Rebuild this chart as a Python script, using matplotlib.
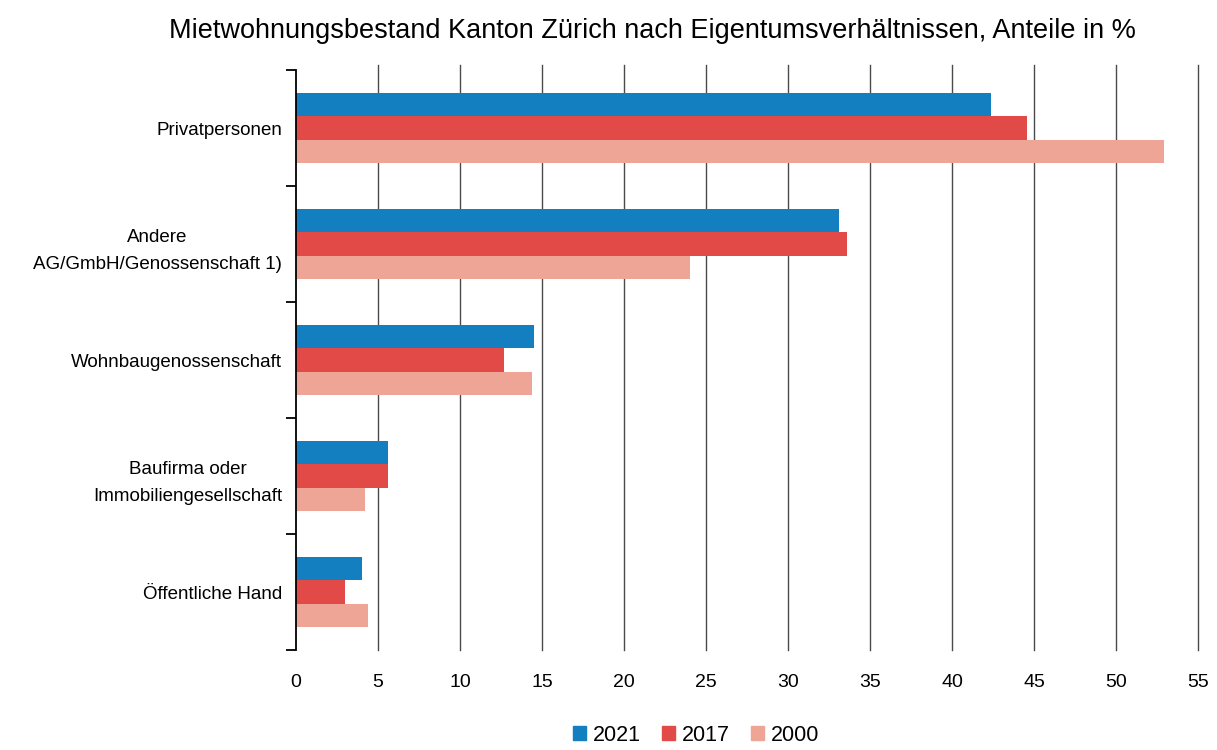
import numpy as np
import matplotlib
matplotlib.use("Agg")
import matplotlib.pyplot as plt
from matplotlib.patches import Patch

plt.rcParams['font.family'] = ['Liberation Sans', 'DejaVu Sans']

# Eigentümerkategorien (von oben nach unten)
kategorien = ['Privatpersonen',
              'Andere\nAG/GmbH/Genossenschaft 1)',
              'Wohnbaugenossenschaft',
              'Baufirma oder\nImmobiliengesellschaft',
              'Öffentliche Hand']

jahre = ['2021', '2017', '2000']
anteil_2021 = [42.4, 33.1, 14.5, 5.6, 4.0]
anteil_2017 = [44.6, 33.6, 12.7, 5.6, 3.0]
anteil_2000 = [52.9, 24.0, 14.4, 4.2, 4.4]

farben = ['#137fc0', '#e24a48', '#efa596']
x_ticks = list(range(0, 60, 5))

fig = plt.figure(figsize=(12.17, 7.5), dpi=100)
ax = fig.add_axes([0.2432, 0.1333, 0.7412, 0.7733])

pos = np.arange(len(kategorien))
h = 0.2
for i, (werte, farbe) in enumerate(zip([anteil_2021, anteil_2017, anteil_2000], farben)):
    ax.barh(pos + (i - 1) * h, werte, height=h, color=farbe, zorder=3)

ax.set_ylim(4.5, -0.5)
ax.set_xlim(0, 55)

# vertikale Gitterlinien
for xv in x_ticks[1:]:
    ax.axvline(xv, ymin=0, ymax=1.008, color='#4a4a4a', lw=1.0, zorder=1, clip_on=False)

for s in ['top', 'right', 'bottom']:
    ax.spines[s].set_visible(False)
ax.spines['left'].set_linewidth(1.3)
ax.spines['left'].set_zorder(4)

ax.set_yticks(pos)
ax.set_yticklabels(kategorien, fontsize=13.5, multialignment='center', linespacing=1.75)
ax.tick_params(axis='y', which='major', length=0, pad=10)
ax.set_yticks(np.arange(-0.5, 5, 1), minor=True)
ax.tick_params(axis='y', which='minor', length=7, width=1.3, direction='out')

ax.set_xticks(x_ticks)
ax.set_xticklabels([str(v) for v in x_ticks], fontsize=14)
ax.tick_params(axis='x', length=0, pad=17)

fig.suptitle('Mietwohnungsbestand Kanton Zürich nach Eigentumsverhältnissen, Anteile in %',
             x=0.536, y=0.976, fontsize=19.5)

handles = [Patch(color=c) for c in farben]
fig.legend(handles, jahre, loc='lower center', bbox_to_anchor=(0.572, 0.0), ncol=3, frameon=False,
           handlelength=0.6, handleheight=0.6, handletextpad=0.3, columnspacing=1.0,
           borderaxespad=0.1, borderpad=0.1, prop={'size': 15.5})

fig.savefig('out.png', dpi=100)
